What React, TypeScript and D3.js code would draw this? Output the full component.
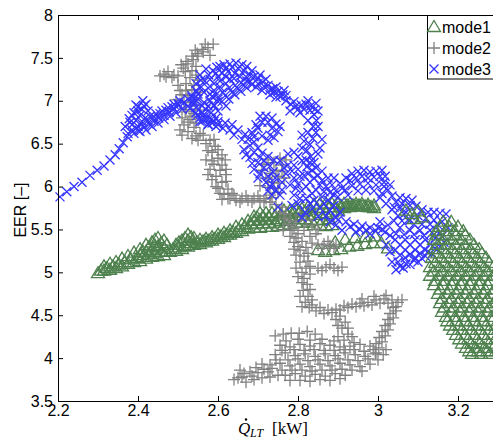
import { useEffect, useRef } from 'react';
import * as d3 from 'd3';

const xTicks = [2.2, 2.4, 2.6, 2.8, 3, 3.2];
const yTicks = [3.5, 4, 4.5, 5, 5.5, 6, 6.5, 7, 7.5, 8];
const legendLabels = ['mode1', 'mode2', 'mode3'];

// mode1 – main band (drawn under the other modes)
const mode1Band = [
  [2.3, 4.99], [2.315, 5.02], [2.315, 5.07], [2.33, 5.03], [2.33, 5.1], [2.345, 5.05], [2.345, 5.12],
  [2.36, 5.07], [2.36, 5.16], [2.375, 5.1], [2.375, 5.19], [2.39, 5.12], [2.39, 5.23],
  [2.405, 5.13], [2.405, 5.2], [2.405, 5.27], [2.42, 5.16], [2.42, 5.24], [2.42, 5.32],
  [2.435, 5.18], [2.435, 5.26], [2.435, 5.35], [2.45, 5.19], [2.45, 5.3], [2.45, 5.4],
  [2.465, 5.2], [2.465, 5.28], [2.465, 5.37], [2.48, 5.24], [2.495, 5.25], [2.495, 5.32],
  [2.51, 5.27], [2.51, 5.37], [2.525, 5.3], [2.525, 5.37], [2.525, 5.44], [2.54, 5.32], [2.54, 5.4],
  [2.555, 5.33], [2.555, 5.38], [2.57, 5.35], [2.57, 5.39], [2.585, 5.37], [2.585, 5.41],
  [2.6, 5.39], [2.6, 5.44], [2.615, 5.41], [2.615, 5.46], [2.63, 5.44], [2.63, 5.49],
  [2.645, 5.46], [2.645, 5.53], [2.66, 5.48], [2.66, 5.56], [2.675, 5.51], [2.675, 5.6],
  [2.69, 5.52], [2.69, 5.6], [2.69, 5.65], [2.705, 5.52], [2.705, 5.61], [2.705, 5.69],
  [2.72, 5.53], [2.72, 5.61], [2.72, 5.69], [2.735, 5.53], [2.735, 5.69], [2.75, 5.54], [2.75, 5.62], [2.75, 5.7],
  [2.765, 5.55], [2.765, 5.72], [2.78, 5.56], [2.78, 5.64], [2.78, 5.72], [2.795, 5.58], [2.795, 5.73],
  [2.81, 5.58], [2.81, 5.66], [2.81, 5.74], [2.825, 5.58], [2.825, 5.67], [2.825, 5.76],
  [2.84, 5.55], [2.84, 5.67], [2.84, 5.79], [2.855, 5.55], [2.855, 5.69], [2.855, 5.8],
  [2.87, 5.54], [2.87, 5.68], [2.87, 5.8], [2.885, 5.55], [2.885, 5.7], [2.885, 5.8],
  [2.9, 5.72], [2.9, 5.8], [2.915, 5.75], [2.915, 5.8], [2.93, 5.76], [2.93, 5.8],
  [2.945, 5.77], [2.945, 5.8], [2.96, 5.77], [2.96, 5.8], [2.975, 5.76], [2.975, 5.79],
  [2.99, 5.75], [2.99, 5.78],
  [2.3075, 5.02], [2.3225, 5.05], [2.3375, 5.07], [2.3525, 5.09], [2.3675, 5.12], [2.3825, 5.15],
  [2.3975, 5.17], [2.4125, 5.18], [2.4125, 5.24], [2.4275, 5.21], [2.4275, 5.29], [2.4425, 5.22],
  [2.4425, 5.31], [2.4425, 5.38], [2.4575, 5.24], [2.4575, 5.34], [2.4725, 5.24], [2.4725, 5.32],
  [2.4875, 5.27], [2.5025, 5.29], [2.5025, 5.35], [2.5175, 5.31], [2.5175, 5.4], [2.5325, 5.34],
  [2.5325, 5.41], [2.5475, 5.35], [2.5625, 5.36], [2.5775, 5.37], [2.5925, 5.39], [2.6075, 5.42],
  [2.6225, 5.44], [2.6375, 5.47], [2.6525, 5.5], [2.6675, 5.53], [2.6825, 5.56], [2.6975, 5.57],
  [2.6975, 5.64], [2.7125, 5.57], [2.7125, 5.65], [2.7275, 5.57], [2.7275, 5.65], [2.7425, 5.58],
  [2.7425, 5.66], [2.7575, 5.6], [2.7575, 5.68], [2.7725, 5.6], [2.7725, 5.68], [2.7875, 5.62],
  [2.7875, 5.7], [2.8025, 5.62], [2.8025, 5.7], [2.8175, 5.62], [2.8175, 5.71], [2.8325, 5.61],
  [2.8325, 5.73], [2.8475, 5.61], [2.8475, 5.75], [2.8625, 5.61], [2.8625, 5.75], [2.8775, 5.62],
  [2.8775, 5.76], [2.8925, 5.76], [2.9075, 5.77], [2.9225, 5.78], [2.9375, 5.78], [2.9525, 5.78],
  [2.9675, 5.77], [2.9825, 5.76],
  [2.85, 5.26], [2.868, 5.24], [2.888, 5.26], [2.908, 5.27], [2.928, 5.3], [2.948, 5.31],
  [2.968, 5.33], [2.988, 5.34], [3.008, 5.34], [3.025, 5.28], [2.893, 5.35], [2.918, 5.38],
  [2.943, 5.4], [2.968, 5.41], [2.993, 5.42],
];

// mode1 – right-hand cluster (lies on top)
const mode1Right = [
  [3.07, 5.72], [3.085, 5.68], [3.1, 5.71], [3.11, 5.64], [3.09, 5.62],
  [3.163, 5.59], [3.183, 5.59],
  [3.145, 5.48], [3.168, 5.48], [3.19, 5.48], [3.213, 5.48],
  [3.14, 5.38], [3.163, 5.38], [3.185, 5.38], [3.208, 5.38], [3.23, 5.38],
  [3.14, 5.27], [3.163, 5.27], [3.185, 5.27], [3.208, 5.27], [3.23, 5.27], [3.253, 5.27],
  [3.135, 5.17], [3.158, 5.17], [3.18, 5.17], [3.203, 5.17], [3.225, 5.17], [3.248, 5.17], [3.27, 5.17],
  [3.13, 5.06], [3.153, 5.06], [3.175, 5.06], [3.198, 5.06], [3.22, 5.06], [3.243, 5.06], [3.265, 5.06], [3.288, 5.06],
  [3.13, 4.96], [3.153, 4.96], [3.175, 4.96], [3.198, 4.96], [3.22, 4.96], [3.243, 4.96], [3.265, 4.96], [3.288, 4.96],
  [3.14, 4.85], [3.163, 4.85], [3.185, 4.85], [3.208, 4.85], [3.23, 4.85], [3.253, 4.85], [3.275, 4.85],
  [3.15, 4.75], [3.173, 4.75], [3.195, 4.75], [3.218, 4.75], [3.24, 4.75], [3.263, 4.75], [3.285, 4.75],
  [3.155, 4.64], [3.178, 4.64], [3.2, 4.64], [3.223, 4.64], [3.245, 4.64], [3.268, 4.64], [3.29, 4.64],
  [3.16, 4.54], [3.183, 4.54], [3.205, 4.54], [3.228, 4.54], [3.25, 4.54], [3.273, 4.54], [3.295, 4.54],
  [3.173, 4.43], [3.195, 4.43], [3.218, 4.43], [3.24, 4.43], [3.263, 4.43], [3.285, 4.43],
  [3.188, 4.33], [3.21, 4.33], [3.233, 4.33], [3.255, 4.33], [3.278, 4.33], [3.3, 4.33],
  [3.203, 4.22], [3.225, 4.22], [3.248, 4.22], [3.27, 4.22], [3.293, 4.22],
  [3.22, 4.12], [3.243, 4.12], [3.265, 4.12], [3.288, 4.12],
  [3.235, 4.05], [3.258, 4.05], [3.28, 4.05],
  [3.155, 5.53], [3.178, 5.53], [3.2, 5.53],
  [3.15, 5.43], [3.173, 5.43], [3.195, 5.43], [3.218, 5.43],
  [3.15, 5.32], [3.173, 5.32], [3.195, 5.32], [3.218, 5.32], [3.24, 5.32],
  [3.148, 5.22], [3.17, 5.22], [3.193, 5.22], [3.215, 5.22], [3.238, 5.22], [3.26, 5.22],
  [3.143, 5.11], [3.165, 5.11], [3.188, 5.11], [3.21, 5.11], [3.233, 5.11], [3.255, 5.11], [3.278, 5.11],
  [3.14, 5.01], [3.163, 5.01], [3.185, 5.01], [3.208, 5.01], [3.23, 5.01], [3.253, 5.01], [3.275, 5.01], [3.298, 5.01],
  [3.143, 4.9], [3.165, 4.9], [3.188, 4.9], [3.21, 4.9], [3.233, 4.9], [3.255, 4.9], [3.278, 4.9],
  [3.155, 4.8], [3.178, 4.8], [3.2, 4.8], [3.223, 4.8], [3.245, 4.8], [3.268, 4.8], [3.29, 4.8],
  [3.16, 4.69], [3.183, 4.69], [3.205, 4.69], [3.228, 4.69], [3.25, 4.69], [3.273, 4.69], [3.295, 4.69],
  [3.165, 4.59], [3.188, 4.59], [3.21, 4.59], [3.233, 4.59], [3.255, 4.59], [3.278, 4.59],
  [3.17, 4.48], [3.193, 4.48], [3.215, 4.48], [3.238, 4.48], [3.26, 4.48], [3.283, 4.48],
  [3.18, 4.38], [3.203, 4.38], [3.225, 4.38], [3.248, 4.38], [3.27, 4.38], [3.293, 4.38],
  [3.195, 4.27], [3.218, 4.27], [3.24, 4.27], [3.263, 4.27], [3.285, 4.27],
  [3.21, 4.17], [3.233, 4.17], [3.255, 4.17], [3.278, 4.17],
  [3.228, 4.08], [3.25, 4.08], [3.273, 4.08], [3.295, 4.08],
];

// mode2 (plus markers)
const mode2 = [
  [2.588, 7.66], [2.575, 7.62], [2.563, 7.57], [2.55, 7.52], [2.538, 7.48], [2.525, 7.43], [2.513, 7.38],
  [2.568, 7.66], [2.543, 7.59], [2.58, 7.53],
  [2.455, 7.29], [2.47, 7.28], [2.485, 7.27], [2.5, 7.29], [2.475, 7.34],
  [2.518, 7.34], [2.53, 7.27], [2.52, 7.2], [2.535, 7.13], [2.525, 7.06], [2.54, 7.01], [2.53, 6.94],
  [2.518, 6.87], [2.535, 6.82], [2.525, 6.75], [2.54, 6.69], [2.525, 6.64], [2.545, 6.59], [2.515, 6.72],
  [2.505, 6.66], [2.55, 6.54], [2.5, 7.18], [2.51, 7.07], [2.55, 7.24], [2.555, 7.1], [2.495, 7.01], [2.555, 6.89],
  [2.56, 7.6], [2.548, 7.55], [2.535, 7.52], [2.52, 7.46], [2.508, 7.42], [2.49, 7.3], [2.465, 7.31],
  [2.545, 7.4], [2.535, 7.35], [2.545, 7.3], [2.52, 7.12], [2.54, 7.18], [2.505, 7.12], [2.515, 6.98],
  [2.545, 6.95], [2.52, 6.9], [2.54, 6.85], [2.51, 6.8], [2.53, 6.78], [2.545, 6.74], [2.51, 6.6],
  [2.535, 6.56], [2.555, 6.62],
  [2.563, 6.6], [2.58, 6.54], [2.593, 6.47], [2.585, 6.4], [2.6, 6.33], [2.59, 6.26], [2.605, 6.19],
  [2.595, 6.12], [2.61, 6.05], [2.6, 5.98], [2.615, 5.91], [2.625, 5.86], [2.57, 6.31], [2.618, 6.31],
  [2.575, 6.14], [2.62, 6.14],
  [2.57, 6.5], [2.59, 6.55], [2.6, 6.43], [2.575, 6.42], [2.61, 6.37], [2.585, 6.3], [2.61, 6.25],
  [2.58, 6.2], [2.62, 6.2], [2.585, 6.08], [2.62, 6.06], [2.595, 6.0], [2.625, 5.97], [2.605, 5.92],
  [2.635, 5.92], [2.61, 5.85],
  [2.63, 5.86], [2.645, 5.84], [2.66, 5.86], [2.675, 5.84], [2.69, 5.86], [2.705, 5.84], [2.72, 5.86], [2.735, 5.87],
  [2.64, 5.9], [2.655, 5.82], [2.67, 5.89], [2.685, 5.82], [2.7, 5.89], [2.715, 5.82], [2.73, 5.82],
  [2.73, 5.9], [2.74, 5.98], [2.735, 6.05], [2.75, 6.12], [2.745, 6.19], [2.76, 6.25], [2.77, 6.31],
  [2.755, 6.33], [2.71, 6.19], [2.72, 6.1], [2.705, 6.01], [2.725, 6.31],
  [2.73, 6.15], [2.715, 6.26], [2.74, 6.28], [2.76, 6.18], [2.765, 6.1], [2.725, 5.99], [2.75, 5.93], [2.75, 6.04],
  [2.745, 5.79], [2.755, 5.7], [2.765, 5.63], [2.775, 5.56], [2.785, 5.49], [2.78, 5.42], [2.79, 5.35],
  [2.8, 5.3], [2.763, 5.49], [2.795, 5.59], [2.805, 5.67], [2.82, 5.61], [2.835, 5.55], [2.815, 5.49], [2.83, 5.42],
  [2.76, 5.76], [2.77, 5.68], [2.78, 5.6], [2.79, 5.52], [2.8, 5.45], [2.795, 5.4], [2.81, 5.36],
  [2.79, 5.27], [2.82, 5.29], [2.825, 5.22], [2.795, 5.2], [2.825, 5.13], [2.795, 5.05], [2.83, 4.98],
  [2.8, 4.95], [2.81, 4.88], [2.83, 4.8], [2.805, 4.72], [2.835, 4.68], [2.81, 4.6], [2.845, 5.45], [2.85, 5.5],
  [2.805, 5.26], [2.815, 5.19], [2.805, 5.12], [2.82, 5.05], [2.81, 5.0],
  [2.835, 5.34], [2.85, 5.32], [2.865, 5.33], [2.88, 5.31], [2.895, 5.32], [2.875, 5.36], [2.89, 5.28], [2.86, 5.28],
  [2.83, 5.07], [2.85, 5.05], [2.87, 5.06], [2.89, 5.05], [2.91, 5.06], [2.86, 5.02], [2.88, 5.09], [2.9, 5.02],
  [2.815, 4.93], [2.823, 4.86], [2.813, 4.79], [2.825, 4.72], [2.818, 4.65], [2.828, 4.59],
  [2.835, 4.62], [2.855, 4.59], [2.875, 4.56], [2.895, 4.57], [2.915, 4.61], [2.935, 4.63], [2.955, 4.64],
  [2.975, 4.65], [2.995, 4.68], [3.015, 4.69], [3.035, 4.68], [3.05, 4.65],
  [2.845, 4.55], [2.865, 4.52], [2.885, 4.53], [2.905, 4.56], [2.925, 4.59], [2.945, 4.6], [2.965, 4.61],
  [2.985, 4.62], [3.005, 4.64], [3.025, 4.64], [3.045, 4.6], [3.06, 4.68], [2.96, 4.69], [2.99, 4.72], [3.02, 4.73],
  [3.038, 4.59], [3.03, 4.52], [3.025, 4.45], [3.018, 4.38], [3.01, 4.31], [3.003, 4.24], [2.995, 4.17], [2.988, 4.1],
  [3.045, 4.55], [3.038, 4.47], [3.03, 4.4], [3.025, 4.33], [3.018, 4.26], [3.01, 4.19], [3.002, 4.12], [2.995, 4.06],
  [2.905, 4.49], [2.918, 4.42], [2.91, 4.35], [2.925, 4.28], [2.915, 4.21], [2.93, 4.14],
  [2.895, 4.45], [2.9, 4.38], [2.925, 4.35], [2.935, 4.25], [2.9, 4.25], [2.94, 4.18],
  [2.743, 4.26], [2.763, 4.28], [2.783, 4.29], [2.803, 4.29], [2.823, 4.31], [2.843, 4.28],
  [2.755, 4.15], [2.78, 4.13], [2.805, 4.16], [2.83, 4.14], [2.855, 4.17], [2.88, 4.15], [2.905, 4.13], [2.955, 4.16], [2.98, 4.14],
  [2.77, 4.2], [2.8, 4.22], [2.83, 4.21], [2.86, 4.22], [2.89, 4.2], [2.94, 4.1], [2.965, 4.08],
  [2.76, 4.09], [2.79, 4.1], [2.815, 4.09], [2.84, 4.1], [2.865, 4.09], [2.89, 4.09], [2.915, 4.1],
  [2.743, 4.04], [2.768, 4.06], [2.793, 4.03], [2.818, 4.05], [2.843, 4.02], [2.868, 4.05], [2.893, 4.03],
  [2.918, 4.06], [2.943, 4.04], [2.968, 4.02], [2.993, 4.05], [3.013, 4.04],
  [2.745, 3.98], [2.775, 3.98], [2.8, 3.99], [2.825, 3.97], [2.85, 3.98], [2.875, 3.97], [2.9, 3.99],
  [2.925, 3.98], [2.95, 3.97], [2.975, 3.99], [3.0, 3.98], [3.02, 4.1],
  [2.73, 3.92], [2.755, 3.94], [2.78, 3.91], [2.805, 3.93], [2.83, 3.9], [2.855, 3.93], [2.88, 3.91],
  [2.905, 3.94], [2.93, 3.92], [2.955, 3.9], [2.98, 3.93],
  [2.76, 3.86], [2.785, 3.86], [2.81, 3.86], [2.835, 3.85], [2.86, 3.86], [2.885, 3.86], [2.91, 3.87],
  [2.935, 3.86], [2.96, 3.85],
  [2.768, 3.8], [2.793, 3.82], [2.818, 3.79], [2.843, 3.81], [2.868, 3.79], [2.893, 3.82], [2.918, 3.8],
  [2.78, 3.74], [2.805, 3.74], [2.83, 3.73], [2.855, 3.75], [2.88, 3.74], [2.905, 3.76],
  [2.65, 3.77], [2.665, 3.82], [2.68, 3.84], [2.695, 3.89], [2.71, 3.93], [2.67, 3.72], [2.69, 3.75],
  [2.71, 3.77], [2.655, 3.86], [2.725, 3.84],
  [2.64, 3.75], [2.66, 3.78], [2.685, 3.79], [2.7, 3.83], [2.715, 3.87], [2.735, 3.88], [2.73, 3.78], [2.75, 3.8],
];

// mode3 (x markers)
const mode3 = [
  [2.205, 5.88], [2.222, 5.94], [2.24, 6.0], [2.26, 6.05], [2.28, 6.13], [2.298, 6.19], [2.315, 6.24],
  [2.33, 6.31], [2.343, 6.37], [2.353, 6.44], [2.363, 6.51], [2.373, 6.58], [2.385, 6.66],
  [2.375, 6.62], [2.368, 6.7], [2.385, 6.72], [2.378, 6.79], [2.395, 6.77], [2.39, 6.86], [2.405, 6.83],
  [2.4, 6.93], [2.412, 7.0], [2.42, 6.96], [2.41, 6.9], [2.425, 6.88], [2.418, 6.8], [2.4, 6.7], [2.405, 6.64],
  [2.38, 6.75], [2.395, 6.68], [2.41, 6.76], [2.385, 6.83], [2.4, 6.88], [2.415, 6.94], [2.395, 6.95],
  [2.39, 6.62], [2.402, 6.65], [2.415, 6.69], [2.428, 6.73], [2.44, 6.76], [2.452, 6.8], [2.465, 6.83],
  [2.478, 6.87], [2.49, 6.91], [2.502, 6.95], [2.515, 6.98], [2.525, 7.02],
  [2.43, 6.82], [2.445, 6.85], [2.46, 6.88], [2.475, 6.92], [2.49, 6.96], [2.505, 7.0],
  [2.41, 6.73], [2.425, 6.77], [2.44, 6.81], [2.455, 6.85], [2.47, 6.89], [2.485, 6.93], [2.5, 6.97],
  [2.42, 6.66], [2.435, 6.7], [2.45, 6.74], [2.465, 6.78], [2.48, 6.82], [2.495, 6.86], [2.51, 6.9],
  [2.525, 6.94], [2.54, 6.97],
  [2.535, 7.06], [2.55, 7.02], [2.565, 6.98], [2.58, 7.0], [2.59, 6.94], [2.583, 6.86], [2.595, 6.8],
  [2.585, 6.74], [2.57, 6.78], [2.56, 6.86], [2.545, 6.92], [2.57, 6.9], [2.555, 6.8], [2.575, 6.72],
  [2.54, 7.02], [2.56, 6.94], [2.575, 6.94], [2.585, 7.05], [2.6, 6.88], [2.565, 6.84], [2.58, 6.8],
  [2.59, 6.76], [2.6, 6.72], [2.56, 6.76], [2.545, 6.86], [2.6, 6.99],
  [2.53, 6.91], [2.54, 6.99], [2.55, 7.08], [2.558, 7.16], [2.567, 7.23], [2.577, 7.3], [2.587, 7.35],
  [2.597, 7.39], [2.557, 7.24], [2.575, 7.15], [2.59, 7.2], [2.6, 7.28], [2.61, 7.32],
  [2.535, 7.04], [2.545, 7.12], [2.565, 7.1], [2.58, 7.08], [2.57, 7.37], [2.58, 7.25], [2.595, 7.32],
  [2.605, 7.23], [2.59, 7.12], [2.555, 7.3], [2.545, 7.2],
  [2.615, 7.42], [2.63, 7.43], [2.645, 7.44], [2.66, 7.42], [2.672, 7.4], [2.685, 7.35], [2.625, 7.34],
  [2.642, 7.32], [2.655, 7.28],
  [2.62, 7.38], [2.635, 7.39], [2.65, 7.38], [2.665, 7.35], [2.68, 7.3], [2.605, 7.4], [2.64, 7.26], [2.67, 7.28],
  [2.595, 7.07], [2.612, 7.1], [2.628, 7.15], [2.643, 7.18], [2.658, 7.21], [2.672, 7.23], [2.61, 6.99],
  [2.627, 7.02], [2.642, 7.07], [2.657, 7.11], [2.672, 7.15], [2.685, 7.19], [2.59, 6.95], [2.62, 6.94],
  [2.6, 7.02], [2.618, 7.06], [2.635, 7.1], [2.65, 7.14], [2.665, 7.18], [2.68, 7.22], [2.605, 7.16],
  [2.62, 7.2], [2.63, 7.25], [2.62, 7.28],
  [2.69, 7.28], [2.7, 7.26], [2.712, 7.22], [2.725, 7.18], [2.737, 7.14], [2.75, 7.11], [2.762, 7.07],
  [2.695, 7.16], [2.71, 7.12], [2.73, 7.07], [2.745, 7.04],
  [2.7, 7.2], [2.715, 7.17], [2.73, 7.13], [2.74, 7.1], [2.755, 7.05], [2.765, 7.12], [2.72, 7.25],
  [2.705, 7.3], [2.745, 7.16], [2.77, 7.06],
  [2.77, 7.0], [2.782, 6.96], [2.795, 6.94], [2.808, 6.95], [2.82, 6.96], [2.832, 6.94], [2.842, 6.9],
  [2.78, 6.88], [2.805, 6.86],
  [2.79, 6.99], [2.8, 6.9], [2.815, 6.9], [2.83, 6.89], [2.825, 7.0], [2.845, 6.97], [2.85, 6.88],
  [2.84, 6.84], [2.846, 6.77], [2.838, 6.7], [2.845, 6.63], [2.837, 6.56], [2.83, 6.49], [2.822, 6.42],
  [2.832, 6.35], [2.82, 6.31], [2.81, 6.6], [2.86, 6.55], [2.855, 6.45], [2.81, 6.45],
  [2.825, 6.77], [2.825, 6.63], [2.85, 6.7], [2.815, 6.53], [2.85, 6.38], [2.84, 6.28],
  [2.81, 6.3], [2.822, 6.23], [2.835, 6.19], [2.85, 6.13], [2.86, 6.07], [2.87, 6.0], [2.88, 5.93],
  [2.815, 6.13], [2.83, 6.05], [2.845, 5.96],
  [2.83, 6.28], [2.845, 6.22], [2.86, 6.18], [2.875, 6.1], [2.885, 6.02], [2.895, 5.95], [2.825, 6.15],
  [2.84, 6.1], [2.855, 6.02], [2.865, 5.94], [2.82, 6.0], [2.835, 5.92], [2.9, 5.88], [2.89, 6.1],
  [2.805, 5.86], [2.83, 5.8], [2.855, 5.75], [2.88, 5.72], [2.905, 5.7], [2.785, 5.78], [2.818, 5.7], [2.85, 5.65],
  [2.82, 5.86], [2.84, 5.84], [2.865, 5.8], [2.89, 5.78], [2.8, 5.8], [2.835, 5.74], [2.87, 5.66],
  [2.895, 5.64], [2.81, 5.64],
  [2.79, 5.9], [2.81, 5.95], [2.86, 5.88], [2.875, 5.84], [2.89, 5.9], [2.8, 6.35], [2.79, 6.4], [2.775, 6.38],
  [2.548, 6.83], [2.565, 6.81], [2.583, 6.78], [2.6, 6.76], [2.618, 6.74], [2.635, 6.72],
  [2.555, 6.76], [2.575, 6.73], [2.595, 6.7], [2.612, 6.68], [2.63, 6.66], [2.64, 6.6], [2.66, 6.55],
  [2.675, 6.55], [2.69, 6.58], [2.695, 6.72], [2.705, 6.82], [2.725, 6.75], [2.735, 6.68], [2.73, 6.6], [2.755, 6.7],
  [2.65, 6.66], [2.668, 6.61], [2.685, 6.63], [2.7, 6.68], [2.71, 6.75], [2.72, 6.82], [2.735, 6.8],
  [2.745, 6.73], [2.75, 6.64], [2.74, 6.57], [2.725, 6.54], [2.71, 6.59],
  [2.69, 6.52], [2.7, 6.45], [2.71, 6.39], [2.725, 6.35], [2.74, 6.31], [2.665, 6.43], [2.68, 6.34], [2.7, 6.28],
  [2.68, 6.48], [2.69, 6.4], [2.705, 6.34], [2.715, 6.3], [2.67, 6.37], [2.685, 6.27], [2.715, 6.22],
  [2.705, 6.15], [2.725, 6.12], [2.73, 6.0], [2.735, 5.9], [2.76, 5.96], [2.76, 6.05], [2.755, 6.3],
  [2.775, 6.25], [2.785, 6.18], [2.805, 6.12], [2.8, 6.03], [2.79, 6.25],
  [2.73, 6.24], [2.738, 6.17], [2.743, 6.1], [2.735, 6.03], [2.745, 5.96], [2.755, 5.9], [2.75, 5.76],
  [2.77, 6.15], [2.79, 6.1], [2.78, 6.02], [2.8, 6.2], [2.765, 6.22], [2.795, 5.98],
  [2.69, 6.2], [2.7, 6.1], [2.72, 6.05], [2.725, 5.95],
  [2.905, 6.04], [2.92, 6.1], [2.935, 6.15], [2.95, 6.18], [2.965, 6.19], [2.98, 6.17], [2.995, 6.18],
  [3.01, 6.19], [3.018, 6.12],
  [2.918, 5.96], [2.935, 6.01], [2.955, 6.03], [2.975, 6.04], [2.995, 6.02], [3.015, 6.0],
  [2.93, 6.07], [2.945, 6.1], [2.96, 6.12], [2.975, 6.1], [2.99, 6.11], [3.005, 6.12], [2.91, 5.98],
  [2.925, 5.9], [2.95, 5.95], [2.97, 5.96], [2.99, 5.95], [3.01, 5.92],
  [3.015, 6.05], [3.025, 5.96], [3.035, 5.89], [3.045, 5.82], [3.055, 5.75], [3.065, 5.68], [3.075, 5.61],
  [3.005, 5.87], [3.02, 5.8], [3.035, 5.73], [3.05, 5.66], [3.055, 5.87], [3.07, 5.86], [3.085, 5.84], [3.095, 5.77],
  [3.03, 6.02], [3.04, 5.76], [3.06, 5.8], [3.08, 5.78], [3.07, 5.7], [3.06, 5.6],
  [3.11, 5.73], [3.125, 5.7], [3.14, 5.7], [3.155, 5.69], [3.17, 5.68],
  [3.08, 5.61], [3.1, 5.66], [3.12, 5.63], [3.14, 5.61], [3.16, 5.59],
  [3.09, 5.56], [3.11, 5.56], [3.13, 5.56], [3.15, 5.55],
  [3.055, 5.52], [3.08, 5.49], [3.105, 5.49], [3.13, 5.49], [3.155, 5.47], [3.175, 5.52],
  [3.045, 5.45], [3.065, 5.44], [3.09, 5.44], [3.115, 5.43], [3.14, 5.44], [3.16, 5.42],
  [3.043, 5.38], [3.068, 5.38], [3.093, 5.38], [3.118, 5.38], [3.143, 5.4], [3.165, 5.35],
  [3.055, 5.32], [3.08, 5.32], [3.105, 5.32], [3.13, 5.33], [3.155, 5.3],
  [3.043, 5.26], [3.068, 5.26], [3.093, 5.26], [3.118, 5.26], [3.143, 5.28],
  [3.055, 5.2], [3.08, 5.21], [3.105, 5.22], [3.125, 5.24],
  [3.05, 5.12], [3.068, 5.17], [3.093, 5.17], [3.118, 5.19], [3.135, 5.21],
  [3.07, 5.1], [3.09, 5.14], [3.11, 5.16], [3.055, 5.07],
  [3.045, 5.03], [3.063, 5.05], [3.08, 5.09], [3.1, 5.12],
  [3.02, 5.32], [3.03, 5.24], [3.035, 5.12], [3.018, 5.47], [3.005, 5.59], [3.03, 5.43], [3.025, 5.55], [3.04, 5.6],
  [2.88, 5.59], [2.9, 5.61], [2.92, 5.59], [2.94, 5.56], [2.96, 5.54], [2.98, 5.52], [3.0, 5.52],
  [2.91, 5.49], [2.945, 5.47], [2.98, 5.45],
  [2.895, 5.55], [2.93, 5.53], [2.955, 5.5], [2.97, 5.49], [2.995, 5.48], [3.01, 5.5],
];

const GREEN = '#4d804d';
const GRAY = '#808080';
const BLUE = '#3333ff';

const triangle = 'M0,-6.5L6.5,4.5L-6.5,4.5Z';
const plus = 'M-6,0H6M0,-6V6';
const cross = 'M-4.5,-4.5L4.5,4.5M-4.5,4.5L4.5,-4.5';

export default function App() {
  const ref = useRef(null);

  useEffect(() => {
    const width = 493;
    const height = 441;
    const left = 58;
    const top = 15;
    const right = 498;
    const bottom = 401;

    const svg = d3.select(ref.current);
    svg.selectAll('*').remove();
    svg.attr('width', width).attr('height', height);

    const x = d3.scaleLinear().domain([2.2, 3.3]).range([left, right]);
    const y = d3.scaleLinear().domain([3.5, 8]).range([bottom, top]);

    svg.append('rect').attr('width', width).attr('height', height).attr('fill', '#fff');

    const drawSeries = (data, shape, color) => {
      svg
        .append('g')
        .selectAll('path')
        .data(data)
        .join('path')
        .attr('transform', (d) => `translate(${x(d[0])},${y(d[1])})`)
        .attr('d', shape)
        .attr('fill', 'none')
        .attr('stroke', color)
        .attr('stroke-width', 1.3);
    };

    drawSeries(mode1Band, triangle, GREEN);
    drawSeries(mode2, plus, GRAY);
    drawSeries(mode3, cross, BLUE);
    drawSeries(mode1Right, triangle, GREEN);

    const font = '"Liberation Sans", Arial, Helvetica, sans-serif';

    // axes, ticks pointing inwards
    const styleAxis = (g) => {
      g.select('.domain').remove();
      g.selectAll('line').attr('stroke', '#000');
      g.selectAll('text').attr('fill', '#000').style('font-size', '16px').style('font-family', font);
    };

    svg
      .append('g')
      .attr('transform', `translate(0,${bottom})`)
      .call(d3.axisBottom(x).tickValues(xTicks).tickSize(-5).tickSizeOuter(0).tickPadding(4).tickFormat((d) => String(d)))
      .call(styleAxis);

    svg
      .append('g')
      .attr('transform', `translate(0,${top})`)
      .call(d3.axisTop(x).tickValues(xTicks).tickSize(-5).tickSizeOuter(0).tickFormat(() => ''))
      .call(styleAxis);

    svg
      .append('g')
      .attr('transform', `translate(${left},0)`)
      .call(d3.axisLeft(y).tickValues(yTicks).tickSize(-5).tickSizeOuter(0).tickPadding(5).tickFormat((d) => String(d)))
      .call(styleAxis);

    svg
      .append('rect')
      .attr('x', left + 0.5)
      .attr('y', top + 0.5)
      .attr('width', right - left)
      .attr('height', bottom - top)
      .attr('fill', 'none')
      .attr('stroke', '#000')
      .attr('stroke-width', 1);

    // y label
    svg
      .append('text')
      .attr('transform', 'translate(26,210) rotate(-90)')
      .attr('text-anchor', 'middle')
      .style('font-family', font)
      .style('font-size', '16px')
      .text('EER [–]');

    // x label: Q-dot with subscript LT, then [kW]
    const serif = '"Liberation Serif", "Times New Roman", serif';
    const xl = svg.append('text').attr('y', 434).style('font-family', serif).style('font-size', '17px');
    xl.append('tspan').attr('x', 238).style('font-style', 'italic').text('Q');
    xl.append('tspan').attr('x', 250).attr('dy', 3).style('font-style', 'italic').style('font-size', '12px').text('LT');
    xl.append('tspan').attr('x', 272).attr('dy', -3).text('[kW]');
    svg.append('circle').attr('cx', 246).attr('cy', 419.5).attr('r', 1.2).attr('fill', '#000');

    // legend
    const legend = svg.append('g');
    legend
      .append('rect')
      .attr('x', 427.5)
      .attr('y', top + 0.5)
      .attr('width', 80)
      .attr('height', 63.5)
      .attr('fill', '#fff')
      .attr('stroke', '#000');

    const legendShapes = [
      { shape: triangle, color: GREEN },
      { shape: plus, color: GRAY },
      { shape: cross, color: BLUE },
    ];

    legendLabels.forEach((label, i) => {
      const cy = 27 + i * 21;
      legend
        .append('path')
        .attr('transform', `translate(434,${cy})`)
        .attr('d', legendShapes[i].shape)
        .attr('fill', 'none')
        .attr('stroke', legendShapes[i].color)
        .attr('stroke-width', 1.3);
      legend
        .append('text')
        .attr('x', 442)
        .attr('y', cy + 6)
        .style('font-family', font)
        .style('font-size', '16px')
        .text(label);
    });
  }, []);

  return <svg ref={ref} style={{ position: 'absolute', left: 0, top: 0, display: 'block' }} />;
}
